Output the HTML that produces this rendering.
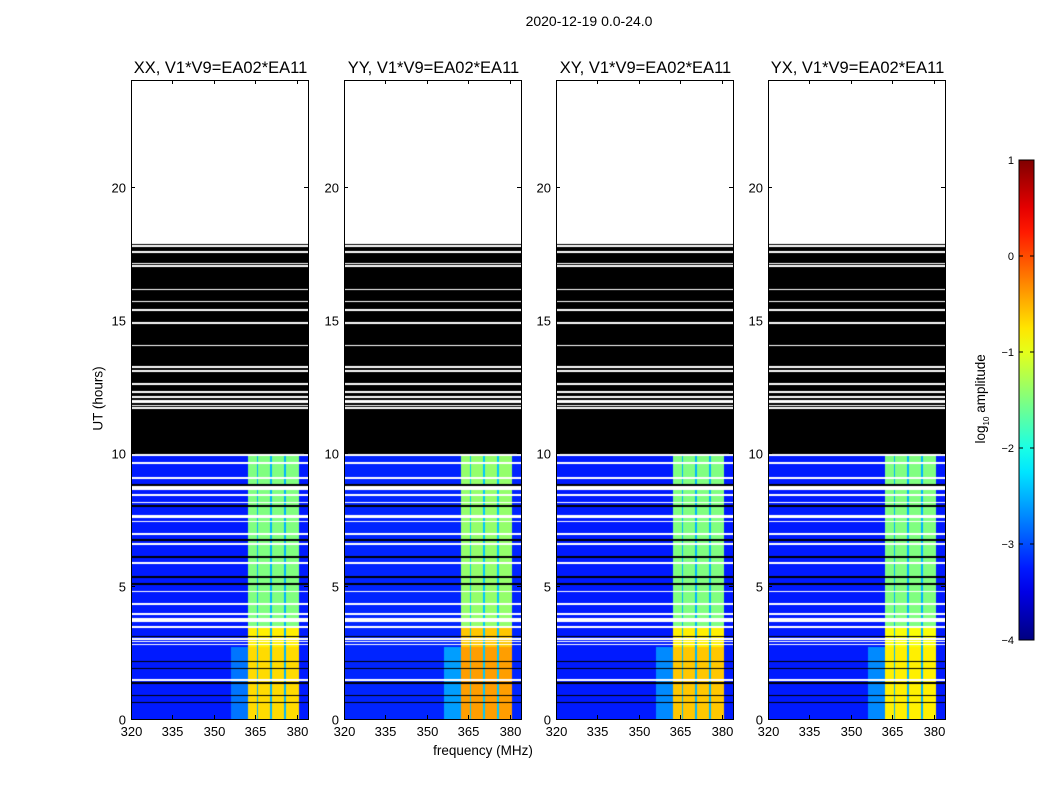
<!DOCTYPE html>
<html><head><meta charset="utf-8">
<style>
body{margin:0;background:#fff;font-family:"Liberation Sans",sans-serif;}
#root{position:relative;width:1050px;height:800px;overflow:hidden;background:#fff;}
.t{position:absolute;color:#000;white-space:nowrap;}
canvas{position:absolute;}
</style></head>
<body>
<div id="root">
<div class="t" style="left:489px;top:13px;width:200px;text-align:center;font-size:14px;">2020-12-19 0.0-24.0</div>
<div class="t" style="left:48px;top:391px;width:100px;text-align:center;font-size:13.5px;transform:rotate(-90deg);">UT (hours)</div>
<div class="t" style="left:383px;top:743px;width:200px;text-align:center;font-size:13.5px;">frequency (MHz)</div>
<div class="t" style="left:922px;top:390px;width:120px;text-align:center;font-size:13.5px;transform:rotate(-90deg);">log<sub style="font-size:8px">10</sub> amplitude</div>
<svg id="ov" width="1050" height="800" style="position:absolute;left:0;top:0"></svg>
</div>
<script>
// ---- data ----
const panelTitles = ["XX, V1*V9=EA02*EA11","YY, V1*V9=EA02*EA11","XY, V1*V9=EA02*EA11","YX, V1*V9=EA02*EA11"];
const xTicks = [320,335,350,365,380];
const yTicks = [0,5,10,15,20];
const cbTicks = [1,0,-1,-2,-3,-4];
// frequency band edges (MHz) and band type: 0 background, 1 glow, 2 rfi, 3 gap
const freqEdges = [320,356,362.3,365.5,366.1,370.4,371,375.4,376,380.7,384];
const bandType  = [0,1,2,3,2,3,2,3,2,0];
// time segments (hours) with rfi level group: 0 = 0-2.7h, 1 = 2.7-3.5h, 2 = 3.5-10h
const timeEdges = [0,2.7,3.5,9.95];
const backgroundLevel = [-3.25,-3.2,-3.25,-3.25];
const glowLevel = [-2.8,-2.6,-2.7,-2.7];
const rfiLevels = [[-0.7,-0.8,-1.5],[-0.4,-0.6,-1.4],[-0.6,-0.8,-1.5],[-0.8,-0.9,-1.5]];
const gapLevel = [-2.5,-2.4,-2.5,-2.5];
const blackStart = 9.95, blackEnd = 17.84;
const whiteLinesData = [[9.91,0.1],[9.62,0.05],[9.05,0.05],[8.67,0.15],[8.41,0.05],[8.12,0.05],[7.6,0.1],[7.41,0.05],[6.95,0.05],[6.57,0.05],[5.86,0.1],[4.78,0.05],[4.32,0.05],[3.94,0.05],[3.72,0.18],[3.45,0.05],[3.0,0.05],[2.9,0.05],[2.8,0.05],[1.46,0.05]];
const blackLinesData = [[8.79,0.05],[8.0,0.05],[6.72,0.05],[6.09,0.05],[5.33,0.05],[5.07,0.05],[3.09,0.05],[2.15,0.05],[1.9,0.05],[1.35,0.05],[0.88,0.05],[0.61,0.05]];
const whiteLinesBlack = [[17.76,0.05],[17.54,0.05],[17.10,0.05],[17.01,0.05],[16.13,0.05],[15.68,0.05],[15.36,0.05],[14.87,0.05],[14.04,0.05],[13.22,0.05],[13.07,0.05],[12.58,0.05],[12.28,0.05],[12.09,0.05],[11.92,0.12],[11.77,0.05],[11.68,0.05]];
// ---- layout ----
const panelLeft=[131,344,556,768], PW=177, PT=80, PB=719;
const fMin=320,fMax=384,hMin=0,hMax=24;
const cbX=1019,cbW=15,cbT=160,cbB=640,vMin=-4,vMax=1;
function jet(v){let t=(v-vMin)/(vMax-vMin);t=Math.max(0,Math.min(1,t));
 const r=Math.max(0,Math.min(1,1.5-Math.abs(4*t-3))),g=Math.max(0,Math.min(1,1.5-Math.abs(4*t-2))),b=Math.max(0,Math.min(1,1.5-Math.abs(4*t-1)));
 return `rgb(${Math.round(r*255)},${Math.round(g*255)},${Math.round(b*255)})`;}
const NS="http://www.w3.org/2000/svg";
const root=document.getElementById('root'), ov=document.getElementById('ov');
function sv(tag,attrs,parent){const e=document.createElementNS(NS,tag);for(const k in attrs)e.setAttribute(k,attrs[k]);(parent||ov).appendChild(e);return e;}
panelLeft.forEach((L,p)=>{
 const xs=f=>Math.round((f-fMin)/(fMax-fMin)*PW), ys=h=>Math.round((PB-PT)-(h-hMin)/(hMax-hMin)*(PB-PT));
 const c=document.createElement('canvas');c.width=PW;c.height=PB-PT;c.style.left=L+'px';c.style.top=PT+'px';
 
 
 root.insertBefore(c,ov);
 const g=c.getContext('2d');
 for(let s=0;s<timeEdges.length-1;s++){
  for(let b=0;b<bandType.length;b++){
   let v;const bt=bandType[b];
   if(bt===0)v=backgroundLevel[p];
   else if(bt===1)v=s===0?glowLevel[p]:backgroundLevel[p];
   else if(bt===2)v=rfiLevels[p][s];
   else v=gapLevel[p];
   g.fillStyle=jet(v);
   const x0=xs(freqEdges[b]),x1=xs(freqEdges[b+1]),y0=ys(timeEdges[s+1]),y1=ys(timeEdges[s]);
   g.fillRect(x0,y0,x1-x0,y1-y0);
  }
 }
 g.fillStyle='#000';g.fillRect(0,ys(blackEnd),PW,ys(blackStart)-ys(blackEnd));
 g.fillStyle='#fff';
 whiteLinesData.concat(whiteLinesBlack).forEach(([h,w])=>{const y0=ys(h+w/2),y1=ys(h-w/2);g.fillRect(0,y0,PW,Math.max(1,y1-y0));});
 g.fillStyle='#000';
 blackLinesData.forEach(([h,w])=>{const y0=ys(h+w/2),y1=ys(h-w/2);g.fillRect(0,y0,PW,Math.max(1,y1-y0));});
 const fr=sv('rect',{x:L+0.5,y:PT+0.5,width:PW,height:PB-PT,fill:'none',stroke:'#000','stroke-width':1});
 
 
 const tt=sv('text',{x:L+PW/2+1,y:PT-7,'text-anchor':'middle','font-size':16.5,'font-family':'Liberation Sans, sans-serif'});tt.textContent=panelTitles[p];
 
 
 xTicks.forEach(f=>{const x=L+xs(f)+0.5;sv('line',{x1:x,x2:x,y1:PB,y2:PB-4,stroke:'#000'});sv('line',{x1:x,x2:x,y1:PT,y2:PT+4,stroke:'#000'});
  const t=sv('text',{x:x,y:PB+17,'text-anchor':'middle','font-size':13,'font-family':'Liberation Sans, sans-serif'});t.textContent=f;
  
  });
 yTicks.forEach(h=>{const y=PT+ys(h)+0.5;sv('line',{x1:L,x2:L+4,y1:y,y2:y,stroke:'#000'});sv('line',{x1:L+PW,x2:L+PW-4,y1:y,y2:y,stroke:'#000'});
  const t=sv('text',{x:L-5,y:y+5,'text-anchor':'end','font-size':13,'font-family':'Liberation Sans, sans-serif'});t.textContent=h;
  
  });
});
// colorbar
const defs=sv('defs',{});const lg=sv('linearGradient',{id:'jg',x1:0,y1:1,x2:0,y2:0},defs);
for(let i=0;i<=20;i++){const v=vMin+(vMax-vMin)*i/20;sv('stop',{offset:i/20,'stop-color':jet(v)},lg);}
const cb=sv('rect',{x:cbX,y:cbT,width:cbW,height:cbB-cbT,fill:'url(#jg)',stroke:'#000'});


cbTicks.forEach(v=>{const y=cbB-(v-vMin)/(vMax-vMin)*(cbB-cbT);
 sv('line',{x1:cbX,x2:cbX+4,y1:y,y2:y,stroke:'#000'});sv('line',{x1:cbX+cbW,x2:cbX+cbW-4,y1:y,y2:y,stroke:'#000'});
 const t=sv('text',{x:cbX-5,y:y+4,'text-anchor':'end','font-size':11,'font-family':'Liberation Sans, sans-serif'});t.textContent=v<0?'\u2212'+(-v):v;
 
 });
</script>
</body></html>
